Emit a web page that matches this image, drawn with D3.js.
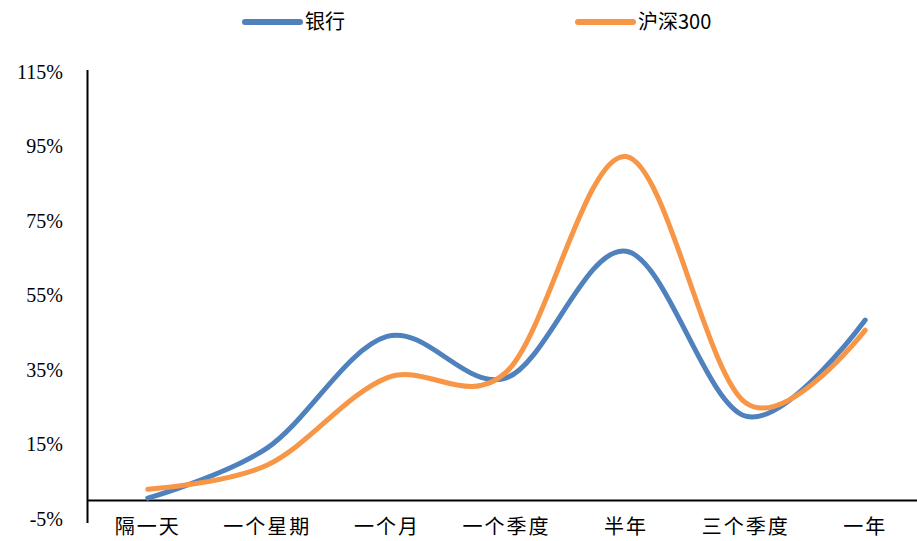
<!DOCTYPE html>
<html>
<head>
<meta charset="utf-8">
<script src="https://cdn.jsdelivr.net/npm/d3@7"></script>
<style>
  html, body { margin: 0; padding: 0; background: #fff; }
  svg { display: block; }
</style>
</head>
<body>
<svg id="chart" width="917" height="541"></svg>
<script>
// Holding periods and returns (%) for each series
const categories = ["隔一天", "一个星期", "一个月", "一个季度", "半年", "三个季度", "一年"];
const bankValues = [0.6, 14.1, 44.0, 32.9, 66.9, 22.6, 48.4];
const csi300Values = [3.0, 9.5, 32.9, 34.5, 92.3, 26.2, 45.7];
const seriesNames = ["银行", "沪深300"];
const yTickValues = [-5, 15, 35, 55, 75, 95, 115];

const colors = ["#4F81BD", "#F79646"];

const svg = d3.select("#chart");

const x = d3.scaleBand().domain(categories).range([88, 925]);
const y = d3.scaleLinear().domain([-5, 115]).range([519, 72]);

const cx = d => x(d) + x.bandwidth() / 2;

// Y axis: vertical line with labels, no tick marks
const yAxis = d3.axisLeft(y)
  .tickValues(yTickValues)
  .tickFormat(d => d + "%")
  .tickSize(0)
  .tickPadding(24);

const gy = svg.append("g")
  .attr("transform", "translate(87,0)")
  .call(yAxis);
gy.select(".domain").remove();
gy.selectAll("text")
  .style("font-family", "'Liberation Serif', 'Times New Roman', serif")
  .style("font-size", "20px")
  .attr("fill", "#000");

svg.append("line")
  .attr("x1", 87.5).attr("x2", 87.5)
  .attr("y1", 70).attr("y2", 523)
  .attr("stroke", "#000").attr("stroke-width", 2);

// X axis at zero
const xAxis = d3.axisBottom(x).tickSize(0).tickPadding(19);
const gx = svg.append("g")
  .attr("transform", `translate(0,${y(0)})`)
  .call(xAxis);
gx.select(".domain").remove();
gx.selectAll("text")
  .style("font-family", "'Noto Sans CJK SC', sans-serif")
  .style("font-size", "20px")
  .style("letter-spacing", "2px")
  .attr("fill", "#000");

svg.append("line")
  .attr("x1", 87).attr("x2", 925)
  .attr("y1", y(0)).attr("y2", y(0))
  .attr("stroke", "#000").attr("stroke-width", 2);

// Smoothed series lines
const line = d3.line()
  .x((d, i) => cx(categories[i]))
  .y(d => y(d))
  .curve(d3.curveCardinal.tension(0));

[bankValues, csi300Values].forEach((vals, i) => {
  svg.append("path")
    .datum(vals)
    .attr("d", line)
    .attr("fill", "none")
    .attr("stroke", colors[i])
    .attr("stroke-width", 5)
    .attr("stroke-linecap", "round");
});

// Legend
const legendX = [245, 578];
seriesNames.forEach((name, i) => {
  const g = svg.append("g").attr("transform", `translate(${legendX[i]},22)`);
  g.append("line")
    .attr("x1", 0).attr("x2", 55)
    .attr("y1", 0).attr("y2", 0)
    .attr("stroke", colors[i])
    .attr("stroke-width", 6)
    .attr("stroke-linecap", "round");
  g.append("text")
    .attr("x", 60).attr("y", 0)
    .attr("dy", "0.35em")
    .style("font-family", "'Noto Sans CJK SC', sans-serif")
    .style("font-size", "20px")
    .attr("fill", "#000")
    .text(name);
});
</script>
</body>
</html>
